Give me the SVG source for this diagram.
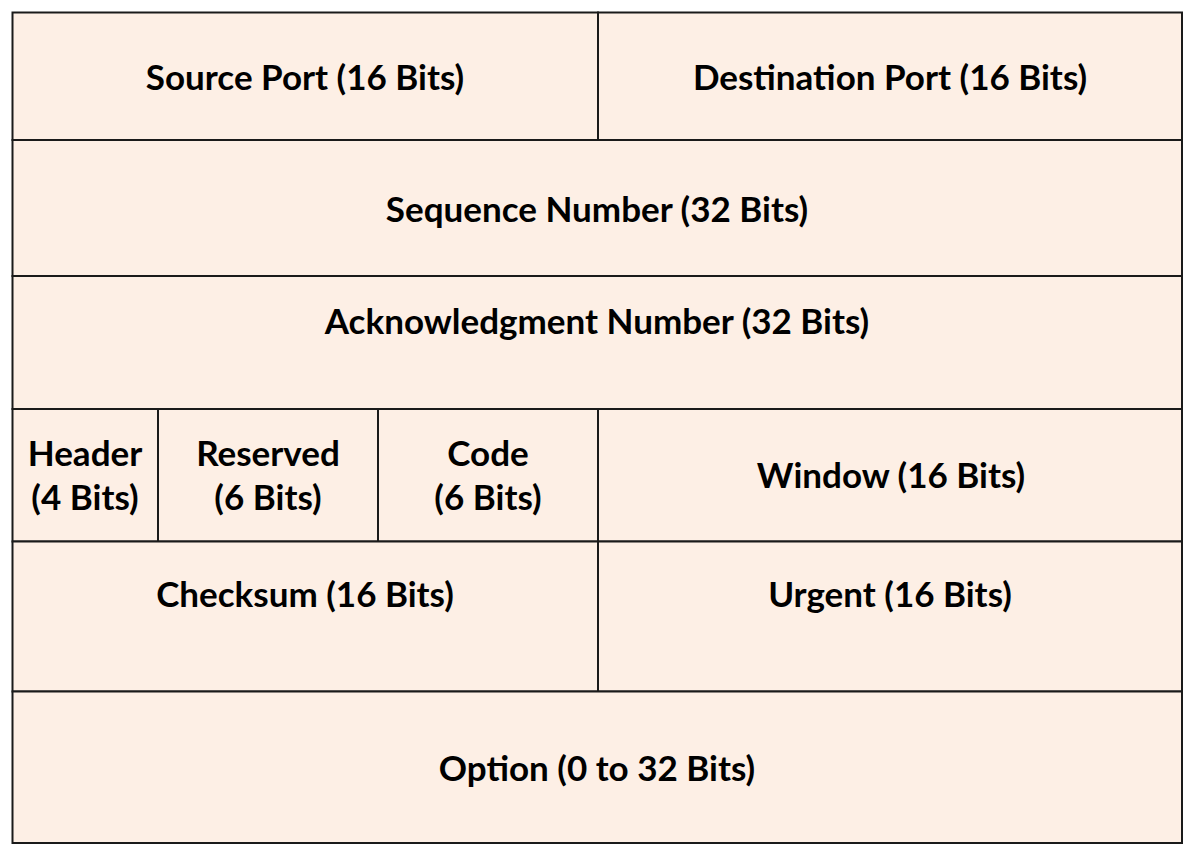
<svg xmlns="http://www.w3.org/2000/svg" width="1195" height="856" viewBox="0 0 1195 856">
<style>
.cell{fill:#FDEFE5;stroke:#1a1a1a;stroke-width:2}
.t{font-family:Lato,"Open Sans","Liberation Sans",sans-serif;font-weight:bold;font-size:35px;fill:#000;text-anchor:middle}
</style>
<rect x="0" y="0" width="1195" height="856" fill="#fff"/>
<g id="source-port"><rect class="cell" x="12.5" y="12.5" width="585.5" height="127.5"/><text class="t" x="305" y="90">Source Port (16 Bits)</text></g>
<g id="destination-port"><rect class="cell" x="598" y="12.5" width="584" height="127.5"/><text class="t" x="890" y="90">Destination Port (16 Bits)</text></g>
<g id="sequence-number"><rect class="cell" x="12.5" y="140" width="1169.5" height="136"/><text class="t" x="597" y="222">Sequence Number (32 Bits)</text></g>
<g id="ack-number"><rect class="cell" x="12.5" y="276" width="1169.5" height="133"/><text class="t" x="597" y="334">Acknowledgment Number (32 Bits)</text></g>
<g id="header"><rect class="cell" x="12.5" y="409" width="145.5" height="132.5"/><text class="t" x="85" y="466">Header</text><text class="t" x="85" y="510">(4 Bits)</text></g>
<g id="reserved"><rect class="cell" x="158" y="409" width="220" height="132.5"/><text class="t" x="268" y="466">Reserved</text><text class="t" x="268" y="510">(6 Bits)</text></g>
<g id="code"><rect class="cell" x="378" y="409" width="220" height="132.5"/><text class="t" x="488" y="466">Code</text><text class="t" x="488" y="510">(6 Bits)</text></g>
<g id="window"><rect class="cell" x="598" y="409" width="584" height="132.5"/><text class="t" x="891" y="488">Window (16 Bits)</text></g>
<g id="checksum"><rect class="cell" x="12.5" y="541.5" width="585.5" height="150"/><text class="t" x="305" y="607">Checksum (16 Bits)</text></g>
<g id="urgent"><rect class="cell" x="598" y="541.5" width="584" height="150"/><text class="t" x="890" y="607">Urgent (16 Bits)</text></g>
<g id="option"><rect class="cell" x="12.5" y="691.5" width="1169.5" height="151.5"/><text class="t" x="597" y="781">Option (0 to 32 Bits)</text></g>
<g id="connectors"/>
</svg>
